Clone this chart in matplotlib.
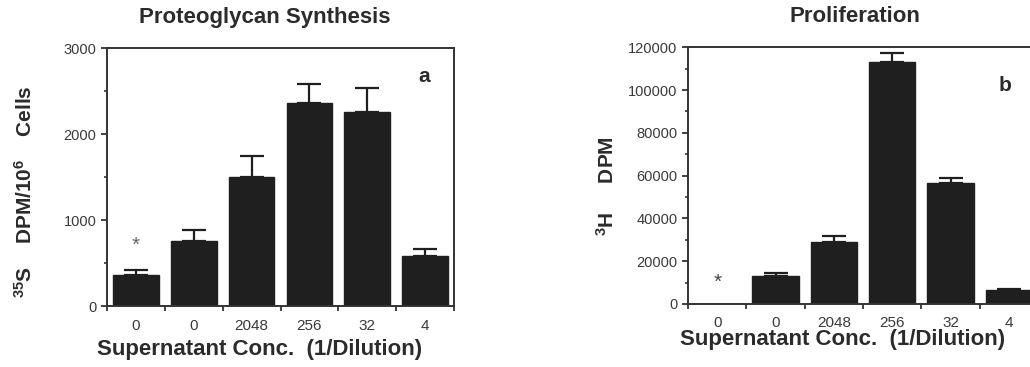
import matplotlib
matplotlib.use("Agg")
import matplotlib.pyplot as plt
from matplotlib.ticker import MultipleLocator, FixedLocator
import numpy as np

plt.rcParams["font.family"] = ["Liberation Sans", "DejaVu Sans"]
plt.rcParams["mathtext.fontset"] = "custom"
plt.rcParams["mathtext.rm"] = "Liberation Sans:bold"
plt.rcParams["mathtext.default"] = "rm"

categories = ["0", "0", "2048", "256", "32", "4"]

# Panel a: proteoglycan synthesis (35S DPM / 10^6 cells)
pg_values = [360, 760, 1505, 2355, 2260, 585]
pg_err = [58, 125, 245, 228, 280, 75]

# Panel b: proliferation (3H DPM)
prolif_values = [0, 13000, 28800, 113000, 56700, 6400]
prolif_err = [0, 1300, 3000, 4200, 2300, 750]

BAR = "#1f1f1f"
TXT = "#2b2b2b"
TICK_TXT = "#3a3a3a"

fig = plt.figure(figsize=(10.30, 3.67), dpi=100)
axA = fig.add_axes([0.1039, 0.1662, 0.3369, 0.7030])
axB = fig.add_axes([0.6680, 0.1717, 0.3398, 0.6995])


def draw_panel(ax, values, err, ymax, major, minor):
    x = np.arange(len(categories))
    vals = np.asarray(values, dtype=float)
    errs = np.asarray(err, dtype=float)
    ax.bar(x, vals, width=0.79, color=BAR, edgecolor=BAR, zorder=2)
    has_err = errs > 0
    ax.errorbar(x[has_err], vals[has_err],
                yerr=[np.zeros(has_err.sum()), errs[has_err]], fmt="none",
                ecolor=BAR, elinewidth=1.6, capsize=8.5, capthick=1.6,
                zorder=3)
    ax.set_xlim(-0.5, 5.5)
    ax.set_ylim(0, ymax)
    ax.yaxis.set_major_locator(MultipleLocator(major))
    ax.yaxis.set_minor_locator(MultipleLocator(minor))
    ax.set_xticks(x)
    ax.set_xticklabels(categories)
    ax.xaxis.set_minor_locator(FixedLocator(np.arange(-0.5, 6.0, 1.0)))
    ax.tick_params(axis="x", which="major", length=0, pad=9,
                   labelsize=11, labelcolor=TICK_TXT)
    ax.tick_params(axis="x", which="minor", length=3.5, width=1.3,
                   direction="out", color="#333333")
    ax.tick_params(axis="y", which="major", length=4.5, width=1.3,
                   direction="out", labelsize=10.5, labelcolor=TICK_TXT,
                   color="#333333", pad=3)
    ax.tick_params(axis="y", which="minor", length=2.5, width=1.2,
                   direction="out", color="#333333")
    for s in ax.spines.values():
        s.set_linewidth(1.4)
        s.set_color("#333333")


draw_panel(axA, pg_values, pg_err, 3000, 1000, 500)
draw_panel(axB, prolif_values, prolif_err, 120000, 20000, 10000)

# significance markers over the control bars
axA.text(0, 700, "*", ha="center", va="center", fontsize=15, color="#666666")
axB.text(0, 10300, "*", ha="center", va="center", fontsize=15, color="#444444")

# panel letters
axA.text(4.98, 2670, "a", ha="center", va="center", fontsize=15,
         fontweight="bold", color=TXT)
axB.text(4.93, 102000, "b", ha="center", va="center", fontsize=15,
         fontweight="bold", color=TXT)

# titles
fig.text(265 / 1030, 1 - 18 / 367, "Proteoglycan Synthesis", ha="center",
         va="center", fontsize=16, fontweight="bold", color=TXT)
fig.text(855 / 1030, 1 - 16 / 367, "Proliferation", ha="center",
         va="center", fontsize=16, fontweight="bold", color=TXT)

# x-axis labels
fig.text(260 / 1030, 1 - 350 / 367, "Supernatant Conc.  (1/Dilution)",
         ha="center", va="center", fontsize=16, fontweight="bold", color=TXT)
fig.text(843 / 1030, 1 - 340 / 367, "Supernatant Conc.  (1/Dilution)",
         ha="center", va="center", fontsize=16, fontweight="bold", color=TXT)

# y-axis labels
fig.text(25 / 1030, 1 - 192 / 367, r"$^{35}$S    DPM/10$^{6}$    Cells",
         rotation=90, ha="center", va="center", fontsize=15,
         fontweight="bold", color=TXT)
fig.text(607 / 1030, 1 - 186 / 367, r"$^{3}$H     DPM",
         rotation=90, ha="center", va="center", fontsize=15,
         fontweight="bold", color=TXT)

fig.savefig("out.png", dpi=100)
